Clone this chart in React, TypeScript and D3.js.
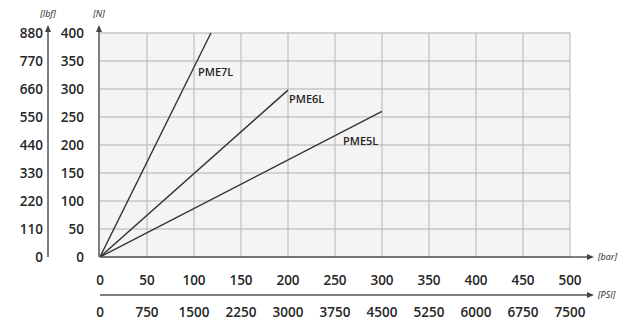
import React from "react";
import * as d3 from "d3";

const barTicks = [0, 50, 100, 150, 200, 250, 300, 350, 400, 450, 500];
const psiTicks = [0, 750, 1500, 2250, 3000, 3750, 4500, 5250, 6000, 6750, 7500];
const nTicks = [0, 50, 100, 150, 200, 250, 300, 350, 400];
const lbfTicks = [0, 110, 220, 330, 440, 550, 660, 770, 880];
const seriesNames = ["PME7L", "PME6L", "PME5L"];
const seriesEndBar = [118, 200, 300];
const seriesEndN = [400, 298, 260];
const labelPos = [
  [198, 76],
  [289, 103],
  [343, 145],
];

const W = 638;
const H = 323;
const FONT = "'Open Sans', sans-serif";

export default function App() {
  const x = d3.scaleLinear().domain([0, 500]).range([100, 570]);
  const xp = d3.scaleLinear().domain([0, 7500]).range([100, 570]);
  const y = d3.scaleLinear().domain([0, 400]).range([257, 33]);
  const yl = d3.scaleLinear().domain([0, 880]).range([257, 33]);
  const line = d3
    .line<[number, number]>()
    .x((d) => x(d[0]))
    .y((d) => y(d[1]));

  const txt = "#262626";
  const arrow = (px: number, py: number, dir: "up" | "right") =>
    dir === "up"
      ? `M${px},${py} L${px - 3},${py + 7} L${px + 3},${py + 7} Z`
      : `M${px},${py} L${px - 7},${py - 3} L${px - 7},${py + 3} Z`;

  return (
    <svg
      width={W}
      height={H}
      style={{ position: "absolute", left: 0, top: 0, background: "#fff" }}
      fontFamily={FONT}
    >
      <rect x={x(0)} y={y(400)} width={x(500) - x(0)} height={y(0) - y(400)} fill="#f4f4f4" />
      {nTicks.map((t) => (
        <line key={"h" + t} x1={x(0)} x2={x(500)} y1={y(t)} y2={y(t)} stroke="#d2d2d2" strokeWidth={2} />
      ))}
      {barTicks.slice(1).map((t) => (
        <line key={"v" + t} x1={x(t)} x2={x(t)} y1={y(400)} y2={y(0)} stroke="#b4b4b4" strokeWidth={1} />
      ))}
      {seriesNames.map((n, i) => (
        <path
          key={n}
          d={line([
            [0, 0],
            [seriesEndBar[i], seriesEndN[i]],
          ]) as string}
          stroke="#333"
          strokeWidth={1.4}
          fill="none"
        />
      ))}
      {seriesNames.map((n, i) => (
        <text key={"l" + n} x={labelPos[i][0]} y={labelPos[i][1]} fontSize={11} fontWeight={600} fill={txt}>
          {n}
        </text>
      ))}

      {/* lbf axis */}
      <line x1={48} x2={48} y1={30} y2={yl(0)} stroke="#555" strokeWidth={1.5} />
      <path d={arrow(48, 25, "up")} fill="#444" />
      <text x={48} y={17} fontSize={9} fontStyle="italic" textAnchor="middle" fill={txt}>[lbf]</text>
      {lbfTicks.map((t) => (
        <text key={"lb" + t} x={43} y={yl(t) + 4.5} fontSize={13.5} fontWeight={600} textAnchor="end" fill={txt}>
          {t}
        </text>
      ))}

      {/* N axis */}
      <line x1={99} x2={99} y1={30} y2={y(0)} stroke="#555" strokeWidth={1.5} />
      <path d={arrow(99, 25, "up")} fill="#444" />
      <text x={99} y={17} fontSize={9} fontStyle="italic" textAnchor="middle" fill={txt}>[N]</text>
      {nTicks.map((t) => (
        <text key={"n" + t} x={84} y={y(t) + 4.5} fontSize={13.5} fontWeight={600} textAnchor="end" fill={txt}>
          {t}
        </text>
      ))}

      {/* bar axis */}
      <line x1={x(0)} x2={588} y1={y(0)} y2={y(0)} stroke="#555" strokeWidth={1.5} />
      <path d={arrow(594, y(0), "right")} fill="#444" />
      <text x={598} y={y(0) + 3} fontSize={9} fontStyle="italic" fill={txt}>[bar]</text>
      {barTicks.map((t) => (
        <text key={"b" + t} x={x(t)} y={285} fontSize={13.5} fontWeight={600} textAnchor="middle" fill={txt}>
          {t}
        </text>
      ))}

      {/* psi axis */}
      <line x1={x(0)} x2={588} y1={295} y2={295} stroke="#555" strokeWidth={1.5} />
      <path d={arrow(594, 295, "right")} fill="#444" />
      <text x={598} y={298} fontSize={9} fontStyle="italic" fill={txt}>[PSI]</text>
      {psiTicks.map((t) => (
        <text key={"p" + t} x={xp(t)} y={317} fontSize={13.5} fontWeight={600} textAnchor="middle" fill={txt}>
          {t}
        </text>
      ))}
    </svg>
  );
}
